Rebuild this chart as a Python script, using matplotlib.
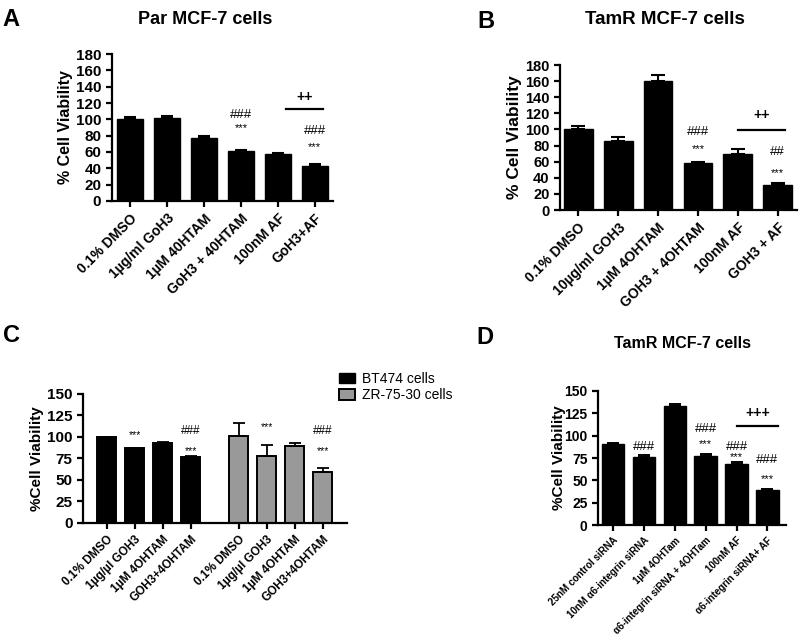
import numpy as np
import matplotlib
matplotlib.use("Agg")
import matplotlib.pyplot as plt
from matplotlib.patches import Patch

plt.rcParams['font.family'] = ['Liberation Sans', 'DejaVu Sans']

# ---- data ----
labels_a = ["0.1% DMSO", "1µg/ml GoH3", "1µM 40HTAM", "GoH3 + 40HTAM", "100nM AF", "GoH3+AF"]
vals_a = [100, 102, 77, 61, 58, 42.5]
err_a = [3, 1.6, 2.7, 1, 1, 2.2]

labels_b = ["0.1% DMSO", "10µg/ml GOH3", "1µM 4OHTAM", "GOH3 + 4OHTAM", "100nM AF", "GOH3 + AF"]
vals_b = [100.5, 86, 160, 58.7, 69, 31.4]
err_b = [3.5, 4.6, 8, 0.9, 7, 2]

labels_c = ["0.1% DMSO", "1µg/µl GOH3", "1µM 4OHTAM", "GOH3+4OHTAM"]
vals_c_bt474 = [100, 87, 93.5, 77]
err_c_bt474 = [0.5, 0.5, 0.6, 0.5]
vals_c_zr = [101.7, 78, 89.3, 59.5]
err_c_zr = [15, 13, 3.9, 4.7]

labels_d = ["25nM control siRNA", "10nM α6-integrin siRNA", "1µM 4OHTam",
            "α6-integrin siRNA + 4OHTam", "100nM AF", "α6-integrin siRNA+ AF"]
vals_d = [90.4, 76.3, 133, 77, 68, 39]
err_d = [1.9, 1.9, 2.9, 2.3, 2.7, 1.6]

# significance marks: (text, x position, y value)
marks_a = [("###", 3, 105), ("***", 3, 89), ("###", 5, 86), ("***", 5, 66)]
marks_b = [("###", 3, 97), ("***", 3, 75.7), ("##", 5, 72), ("***", 5, 45.5)]
marks_c = [("***", 1, 102.4), ("###", 3, 107.5), ("***", 3, 84),
           ("***", 5.7, 112), ("###", 7.7, 107.5), ("***", 7.7, 84)]
marks_d = [("###", 1, 87.5), ("###", 3, 108), ("***", 3, 91), ("###", 4, 87.5),
           ("***", 4, 76), ("###", 5, 72.5), ("***", 5, 51.4)]


def style_axis(ax, lw=1.6):
    for s in ['top', 'right']:
        ax.spines[s].set_visible(False)
    for s in ['left', 'bottom']:
        ax.spines[s].set_linewidth(lw)
    ax.tick_params(width=lw, length=4)
    for t in ax.get_yticklabels():
        t.set_fontweight('bold')


def draw_marks(ax, marks, size_hash=9.5, size_star=8):
    for txt, x, y in marks:
        fs = size_star if txt == "***" else size_hash
        ax.text(x, y, txt, ha='center', va='center', fontsize=fs)


def bracket(ax, x0, x1, y, ytxt, txt, fs=10):
    ax.plot([x0, x1], [y, y], color='black', lw=1.6)
    ax.text((x0 + x1) / 2, ytxt, txt, ha='center', va='center', fontsize=fs, fontweight='bold')


fig = plt.figure(figsize=(8, 6.37), dpi=100)

# ---- A ----
ax = fig.add_axes([0.1396, 0.6845, 0.277, 0.2307])
x = np.arange(len(vals_a))
ax.bar(x, vals_a, width=0.7, color='black', edgecolor='black')
ax.errorbar(x, vals_a, yerr=[np.zeros(len(err_a)), err_a], fmt='none', ecolor='black',
            elinewidth=1.5, capsize=4.5, capthick=1.5)
ax.set_xlim(-0.5, 5.5)
ax.set_ylim(0, 180)
ax.set_yticks(np.arange(0, 181, 20))
ax.set_xticks(x)
ax.set_xticklabels(labels_a, rotation=45, ha='right', rotation_mode='anchor',
                   fontsize=10, fontweight='bold')
ax.tick_params(axis='y', labelsize=11)
ax.set_ylabel("% Cell Viability", fontsize=11.5, fontweight='bold', labelpad=2)
style_axis(ax)
draw_marks(ax, marks_a)
bracket(ax, 4.22, 5.22, 112.6, 127, "++")

# ---- B ----
ax = fig.add_axes([0.7, 0.6703, 0.296, 0.2276])
x = np.arange(len(vals_b))
ax.bar(x, vals_b, width=0.72, color='black', edgecolor='black')
ax.errorbar(x, vals_b, yerr=[np.zeros(len(err_b)), err_b], fmt='none', ecolor='black',
            elinewidth=1.5, capsize=5, capthick=1.5)
ax.set_xlim(-0.46, 5.48)
ax.set_ylim(0, 180)
ax.set_yticks(np.arange(0, 181, 20))
ax.set_xticks(x)
ax.set_xticklabels(labels_b, rotation=45, ha='right', rotation_mode='anchor',
                   fontsize=10, fontweight='bold')
ax.tick_params(axis='y', labelsize=10.5)
ax.set_ylabel("% Cell Viability", fontsize=12.5, fontweight='bold', labelpad=2)
style_axis(ax)
draw_marks(ax, marks_b)
bracket(ax, 4.0, 5.19, 99, 118, "++")

# ---- C ----
ax = fig.add_axes([0.1038, 0.179, 0.33, 0.2025])
x1 = np.arange(4)
x2 = np.arange(4) + 4.7
ax.bar(x1, vals_c_bt474, width=0.68, color='black', edgecolor='black', lw=1.4)
ax.bar(x2, vals_c_zr, width=0.68, color='#999999', edgecolor='black', lw=1.4)
ax.errorbar(x1, vals_c_bt474, yerr=[np.zeros(4), err_c_bt474], fmt='none', ecolor='black',
            elinewidth=1.3, capsize=4, capthick=1.3)
ax.errorbar(x2, vals_c_zr, yerr=[np.zeros(4), err_c_zr], fmt='none', ecolor='black',
            elinewidth=1.3, capsize=4, capthick=1.3)
ax.set_xlim(-0.85, 8.57)
ax.set_ylim(0, 150)
ax.set_yticks(np.arange(0, 151, 25))
ax.set_xticks(np.concatenate([x1, x2]))
ax.set_xticklabels(labels_c + labels_c, rotation=45, ha='right', rotation_mode='anchor',
                   fontsize=8.5, fontweight='bold')
ax.tick_params(axis='y', labelsize=11)
ax.set_ylabel("%Cell Viability", fontsize=11, fontweight='bold', labelpad=2)
style_axis(ax)
draw_marks(ax, marks_c, size_hash=8.5, size_star=7.5)

fig.legend(handles=[Patch(facecolor='black', edgecolor='black', label='BT474 cells'),
                    Patch(facecolor='#999999', edgecolor='black', lw=1.4, label='ZR-75-30 cells')],
           loc='upper left', bbox_to_anchor=(0.411, 1 - 362 / 637), frameon=False,
           fontsize=10, handlelength=1.2, handleheight=0.8, handletextpad=0.5,
           labelspacing=0.2, borderpad=0.2)

# ---- D ----
ax = fig.add_axes([0.7475, 0.1758, 0.235, 0.2104])
x = np.arange(len(vals_d))
ax.bar(x, vals_d, width=0.72, color='black', edgecolor='black')
ax.errorbar(x, vals_d, yerr=[np.zeros(len(err_d)), err_d], fmt='none', ecolor='black',
            elinewidth=1.4, capsize=4, capthick=1.4)
ax.set_xlim(-0.48, 5.6)
ax.set_ylim(0, 150)
ax.set_yticks(np.arange(0, 151, 25))
ax.set_xticks(x)
ax.set_xticklabels(labels_d, rotation=45, ha='right', rotation_mode='anchor',
                   fontsize=7, fontweight='bold')
ax.tick_params(axis='y', labelsize=10)
ax.set_ylabel("%Cell Viability", fontsize=11, fontweight='bold', labelpad=-1)
style_axis(ax)
draw_marks(ax, marks_d)
bracket(ax, 4.0, 5.35, 110.5, 125.4, "+++")

# ---- titles and panel letters ----
fig.text(205 / 800, 1 - 20 / 637, "Par MCF-7 cells", ha='center', va='center', fontsize=13, fontweight='bold')
fig.text(665 / 800, 1 - 20 / 637, "TamR MCF-7 cells", ha='center', va='center', fontsize=13.5, fontweight='bold')
fig.text(682 / 800, 1 - 343 / 637, "TamR MCF-7 cells", ha='center', va='center', fontsize=11.5, fontweight='bold')
for letter, px, py in [("A", 11, 20), ("B", 486, 22), ("C", 12, 335), ("D", 485, 338)]:
    fig.text(px / 800, 1 - py / 637, letter, ha='center', va='center', fontsize=17, fontweight='bold')

fig.savefig("out.png", dpi=100)
